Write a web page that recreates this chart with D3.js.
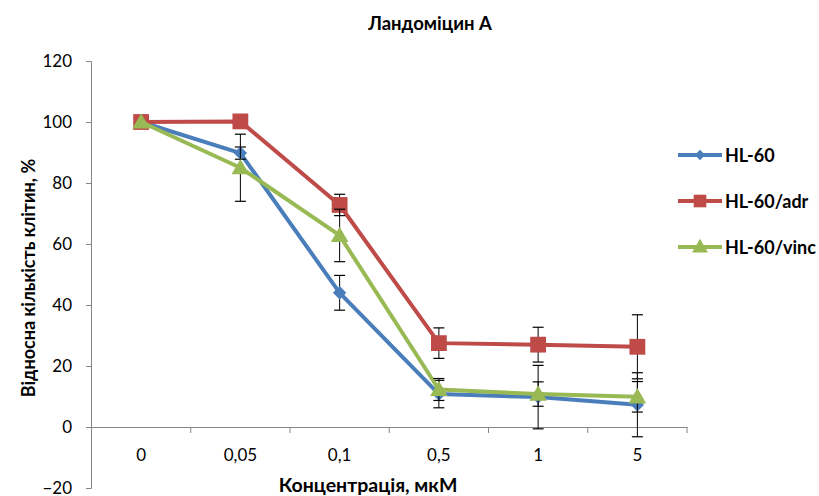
<!DOCTYPE html>
<html><head><meta charset="utf-8">
<script src="https://cdn.jsdelivr.net/npm/d3@7"></script>
<style>body{margin:0;background:#fff}svg{display:block}text{font-family:Lato,"Open Sans",sans-serif}</style>
</head><body><svg id="c" width="819" height="496"></svg>
<script>
const categories = ["0","0,05","0,1","0,5","1","5"];
const hl60 = [100, 89.8, 44, 10.8, 9.8, 7.3];
const hl60Err = [0, 2, 5.7, 4.5, 10.4, 10.5];
const hl60adr = [100, 100.2, 72.8, 27.5, 27, 26.3];
const hl60adrErr = [0, 2, 3.5, 5, 5.7, 10.5];
const hl60vinc = [100, 85, 62.8, 12.3, 10.8, 9.9];
const hl60vincErr = [0, 11, 8.6, 3.6, 4, 5];
const yTicks = [-20, 0, 20, 40, 60, 80, 100, 120];
const seriesNames = ["HL-60", "HL-60/adr", "HL-60/vinc"];

const series = [
  {name: seriesNames[0], values: hl60, err: hl60Err, color: "#4a7ebb", marker: "diamond"},
  {name: seriesNames[1], values: hl60adr, err: hl60adrErr, color: "#be4b48", marker: "square"},
  {name: seriesNames[2], values: hl60vinc, err: hl60vincErr, color: "#98b954", marker: "triangle"}
];

const svg = d3.select("#c");
const x = d3.scaleBand().domain(categories).range([91.5, 687]);
const y = d3.scaleLinear().domain([-20, 120]).range([488, 61]);
const cx = c => x(c) + x.bandwidth() / 2;

// y axis
const yAxis = svg.append("g").attr("transform", "translate(91,0)")
  .call(d3.axisLeft(y).tickValues(yTicks).tickSize(5).tickPadding(14));
yAxis.select(".domain").attr("stroke", "#868686");
yAxis.selectAll(".tick line").attr("stroke", "#868686");
yAxis.selectAll(".tick text").attr("font-size", 17).attr("fill", "#000");

// x axis at y=0
const xAxis = svg.append("g").attr("transform", `translate(0,${y(0)})`)
  .call(d3.axisBottom(x).tickSize(0).tickPadding(22));
xAxis.select(".domain").attr("stroke", "#868686");
xAxis.selectAll(".tick text").attr("font-size", 17).attr("fill", "#000");
// band boundary ticks
svg.append("g").selectAll("line").data(categories).join("line")
  .attr("x1", c => x(c) + x.bandwidth()).attr("x2", c => x(c) + x.bandwidth())
  .attr("y1", y(0)).attr("y2", y(0) + 6).attr("stroke", "#868686");

// titles
svg.append("text").attr("x", 430).attr("y", 30).attr("text-anchor", "middle")
  .attr("font-size", 18.5).attr("font-weight", "bold").text("Ландоміцин А");
svg.append("text").attr("x", 368).attr("y", 492).attr("text-anchor", "middle")
  .attr("font-size", 19.5).attr("font-weight", "bold").text("Концентрація, мкМ");
svg.append("text").attr("transform", "translate(35,278) rotate(-90)").attr("text-anchor", "middle")
  .attr("font-size", 18).attr("font-weight", "bold").text("Відносна кількість клітин, %");

const line = d3.line().x((d, i) => cx(categories[i])).y(d => y(d));
const sym = {
  diamond: d3.symbol().type(d3.symbolDiamond2).size(115),
  square: d3.symbol().type(d3.symbolSquare).size(250),
  triangle: d3.symbol().type(d3.symbolTriangle).size(135)
};

series.forEach(s => {
  svg.append("path").attr("d", line(s.values)).attr("fill", "none")
    .attr("stroke", s.color).attr("stroke-width", 4).attr("stroke-linejoin", "round");
  const g = svg.append("g");
  s.values.forEach((v, i) => {
    const e = s.err[i];
    if (!e) return;
    const px = cx(categories[i]);
    g.append("line").attr("x1", px).attr("x2", px).attr("y1", y(v - e)).attr("y2", y(v + e)).attr("stroke", "#000").attr("stroke-width", 1);
    [v - e, v + e].forEach(t => g.append("line").attr("x1", px - 5.5).attr("x2", px + 5.5).attr("y1", y(t)).attr("y2", y(t)).attr("stroke", "#000").attr("stroke-width", 1.2));
  });
  svg.append("g").selectAll("path").data(s.values).join("path")
    .attr("transform", (d, i) => `translate(${cx(categories[i])},${y(d) + (s.marker === "triangle" ? 1.5 : 0)})`)
    .attr("d", sym[s.marker]).attr("fill", s.color);
});

// legend
const leg = svg.append("g");
const ly = [155, 201, 247];
series.forEach((s, i) => {
  leg.append("line").attr("x1", 678).attr("x2", 722).attr("y1", ly[i]).attr("y2", ly[i]).attr("stroke", s.color).attr("stroke-width", 4);
  const m = s.marker === "diamond" ? d3.symbol().type(d3.symbolDiamond2).size(70)
    : s.marker === "square" ? d3.symbol().type(d3.symbolSquare).size(160)
    : d3.symbol().type(d3.symbolTriangle).size(110);
  leg.append("path").attr("transform", `translate(700,${ly[i] + (s.marker === "triangle" ? 1 : 0)})`).attr("d", m).attr("fill", s.color);
  leg.append("text").attr("x", 725).attr("y", ly[i] + 6.5).attr("font-size", 18).attr("font-weight", "bold").text(s.name);
});
</script></body></html>
